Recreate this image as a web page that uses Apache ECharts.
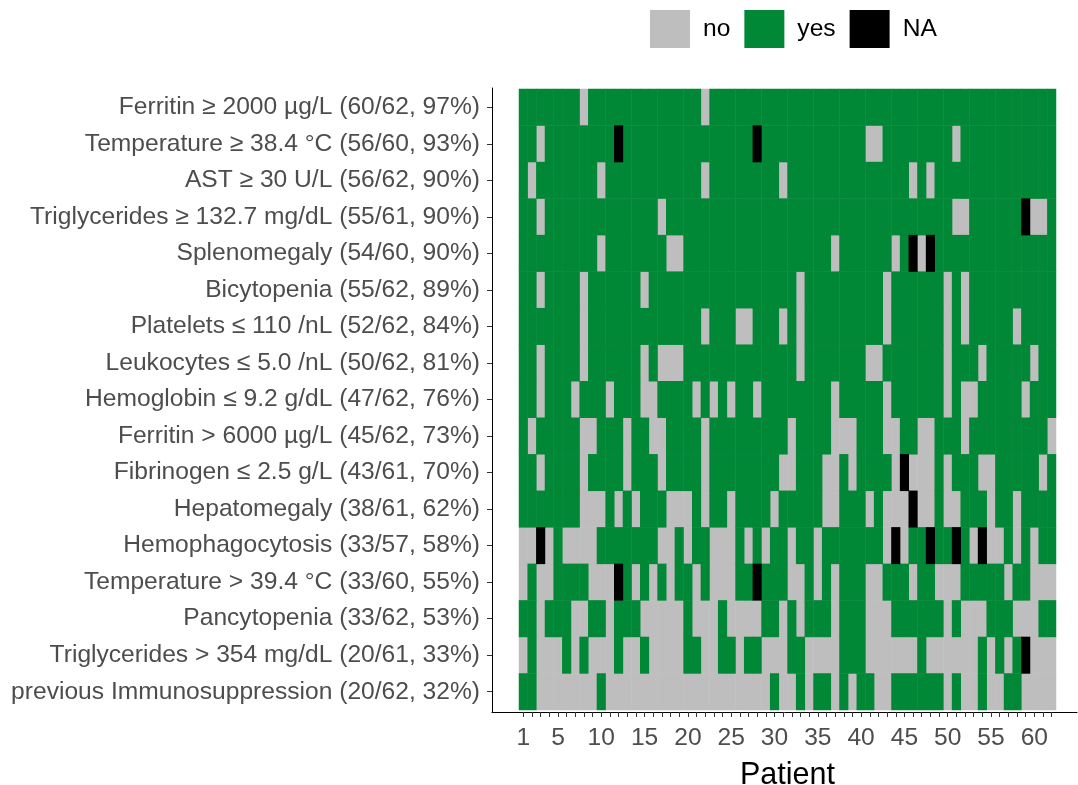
<!DOCTYPE html>
<html>
<head>
<meta charset="utf-8">
<script src="https://cdn.jsdelivr.net/npm/echarts@6/dist/echarts.min.js"></script>
<style>
  html, body { margin: 0; padding: 0; background: #fff; }
  #chart { width: 1078px; height: 785px; }
</style>
</head>
<body>
<div id="chart"></div>
<script>
// criteria, top to bottom
const features = [
  'Ferritin ≥ 2000 µg/L (60/62, 97%)',
  'Temperature ≥ 38.4 °C (56/60, 93%)',
  'AST ≥ 30 U/L (56/62, 90%)',
  'Triglycerides ≥ 132.7 mg/dL (55/61, 90%)',
  'Splenomegaly (54/60, 90%)',
  'Bicytopenia (55/62, 89%)',
  'Platelets ≤ 110 /nL (52/62, 84%)',
  'Leukocytes ≤ 5.0 /nL (50/62, 81%)',
  'Hemoglobin ≤ 9.2 g/dL (47/62, 76%)',
  'Ferritin > 6000 µg/L (45/62, 73%)',
  'Fibrinogen ≤ 2.5 g/L (43/61, 70%)',
  'Hepatomegaly (38/61, 62%)',
  'Hemophagocytosis (33/57, 58%)',
  'Temperature > 39.4 °C (33/60, 55%)',
  'Pancytopenia (33/62, 53%)',
  'Triglycerides > 354 mg/dL (20/61, 33%)',
  'previous Immunosuppression (20/62, 32%)'
];

const patients = [
  '1', '2', '3', '4', '5', '6', '7', '8', '9', '10',
  '11', '12', '13', '14', '15', '16', '17', '18', '19', '20',
  '21', '22', '23', '24', '25', '26', '27', '28', '29', '30',
  '31', '32', '33', '34', '35', '36', '37', '38', '39', '40',
  '41', '42', '43', '44', '45', '46', '47', '48', '49', '50',
  '51', '52', '53', '54', '55', '56', '57', '58', '59', '60',
  '61', '62'
];

// one string per criterion, patients 1..62 (groups of 10)
// y = yes, n = no, x = NA
const status = [
  'yyyyyyynyy yyyyyyyyyy ynyyyyyyyy yyyyyyyyyy yyyyyyyyyy yyyyyyyyyy yy',
  'yynyyyyyyy yxyyyyyyyy yyyyyyyxyy yyyyyyyyyy nnyyyyyyyy nyyyyyyyyy yy',
  'ynyyyyyyyn yyyyyyyyyy ynyyyyyyyy nyyyyyyyyy yyyyynynyy yyyyyyyyyy yy',
  'yynyyyyyyy yyyyyynyyy yyyyyyyyyy yyyyyyyyyy yyyyyyyyyy nnyyyyyyxn ny',
  'yyyyyyyyyn yyyyyyynny yyyyyyyyyy yyyyyynyyy yyynyxnxyy yyyyyyyyyy yy',
  'yynyyyynyy yyyynyyyyy yyyyyyyyyy yynyyyyyyy yynyyyyyyn ynyyyyyyyy yy',
  'yyyyyyynyy yyyyyyyyyy ynyyynnyyy nynyyyyyyy yynyyyyyyn ynyyyyynyy yy',
  'yynyyyynyy yyyynynnny yyyyyyyyyy yynyyyyyyy nnyyyyyyyn yyynyyyyyn yy',
  'yynyyynyyy nyyynnyyyy nynynyynyy yyyyyynyyy yynyyyyyyn ynnyyyyyny yy',
  'ynyyyyynny yynyynnyyy ynyyyyyyyy ynyyyynnny yynnyynnyy ynyyyyyyyy yn',
  'yynyyyynyy yynyyynyyy ynyyyyyyyy nnyyynnyny yyynxnnnyn yyynnyyyyy ny',
  'yyyyyyynnn ynynyyynnn ynyynyyyyn yyyyynnyyy nynnnxnnyn nyyynyynyy yy',
  'nnxnynnnny yyyyyynnyn yynnnynyny ynyynyyyyy yynxnyyxyy xynxnnynyn yy',
  'nynnyyyynn nxynynynyy nynnnyyxyy ynnynynyyy nnyyynyynn nyyyyynyyn nn',
  'yynyyynnyy nyyynnnnny nnnynnnnyy nynyyynyyy nnnyyyyyyn ynnnyyynnn yy',
  'nynnnynynn nynnynnnny ynnyynyynn nyynnnnyyy nnnnnnynnn nnnynynyxn nn',
  'yynnnnnnny nnnnnnnnnn nnnnnnnnny nnynyynyny ynnyyyyyyn ynnynnyynn nn'
];

const levels = ['n', 'y', 'x'];
const levelNames = ['no', 'yes', 'NA'];
const levelColors = ['#BEBEBE', '#008837', '#000000'];

const chart = echarts.init(document.getElementById('chart'));

const buildData = (key) => {
  const out = [];
  status.forEach((row, r) => {
    row.replace(/ /g, '').split('').forEach((c, i) => {
      if (c === key) out.push([i, r, 1]);
    });
  });
  return out;
};

const series = levels.map((key, k) => ({
  name: levelNames[k],
  type: 'heatmap',
  xAxisIndex: 0,
  yAxisIndex: 0,
  data: buildData(key),
  itemStyle: { color: levelColors[k], borderWidth: 0 },
  emphasis: { disabled: true },
  silent: true
}));

const labelFont = 'Liberation Sans, Arial, sans-serif';

const option = {
  animation: false,
  textStyle: { fontFamily: labelFont },
  legend: {
    data: levelNames,
    left: 645,
    top: 5,
    itemWidth: 40,
    itemHeight: 38,
    itemGap: 14,
    icon: 'rect',
    textStyle: {
      fontSize: 24.6,
      color: '#000',
      fontFamily: labelFont,
      padding: [0, 0, 0, 8]
    }
  },
  grid: [
    { left: 519, right: 22, top: 89, bottom: 75, outerBoundsMode: 'none', containLabel: false },
    { left: 492, right: 1, top: 88, bottom: 73, outerBoundsMode: 'none', containLabel: false }
  ],
  xAxis: [
    {
      gridIndex: 0,
      type: 'category',
      data: patients,
      offset: 2,
      axisLine: { show: false },
      axisTick: {
        show: true,
        alignWithLabel: true,
        interval: 0,
        length: 5,
        lineStyle: { color: '#333' }
      },
      axisLabel: {
        interval: (idx, val) => val === '1' || Number(val) % 5 === 0,
        fontSize: 24.6,
        color: '#4D4D4D',
        margin: 14
      },
      splitLine: { show: false },
      name: 'Patient',
      nameLocation: 'middle',
      nameGap: 48,
      nameTextStyle: { fontSize: 30.5, color: '#000' }
    },
    {
      gridIndex: 1,
      type: 'value',
      min: 0,
      max: 1,
      axisLine: { show: true, lineStyle: { color: '#000', width: 1 } },
      axisTick: { show: false },
      axisLabel: { show: false },
      splitLine: { show: false }
    }
  ],
  yAxis: [
    {
      gridIndex: 0,
      type: 'category',
      data: features,
      inverse: true,
      offset: 27,
      axisLine: { show: false },
      axisTick: {
        show: true,
        alignWithLabel: true,
        length: 5,
        lineStyle: { color: '#333' }
      },
      axisLabel: {
        fontSize: 24.6,
        color: '#4D4D4D',
        margin: 12
      },
      splitLine: { show: false }
    },
    {
      gridIndex: 1,
      type: 'value',
      min: 0,
      max: 1,
      axisLine: { show: true, lineStyle: { color: '#000', width: 1 } },
      axisTick: { show: false },
      axisLabel: { show: false },
      splitLine: { show: false }
    }
  ],
  series: series
};

chart.setOption(option);
</script>
</body>
</html>
